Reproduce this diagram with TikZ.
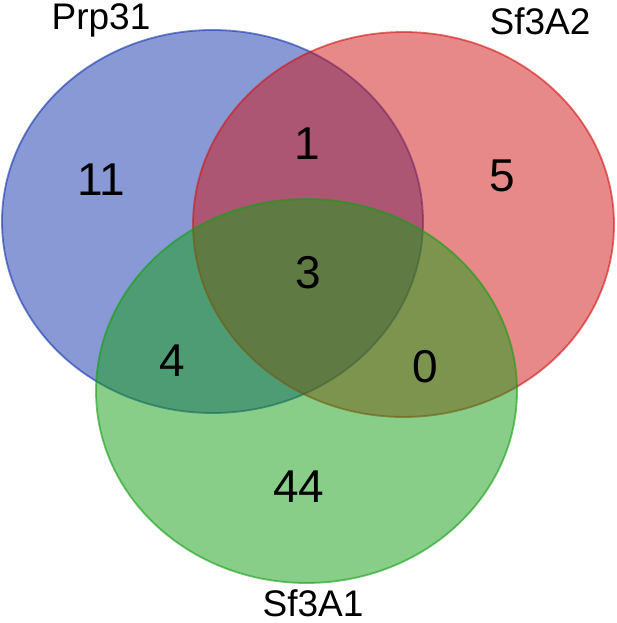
\documentclass[tikz,border=0pt]{standalone}
\usepackage{fontspec}
\setmainfont{Liberation Sans}
\definecolor{vblue}{RGB}{21,53,173}
\definecolor{vred}{RGB}{209,21,21}
\definecolor{vgreen}{RGB}{19,159,19}
\tikzset{
  setshape/.style={fill opacity=0.5, draw opacity=0.6, line width=1.8pt},
  count/.style={font=\fontsize{46}{46}\selectfont, inner sep=0pt},
  setlabel/.style={font=\fontsize{37}{37}\selectfont, inner sep=0pt, anchor=base}
}
\begin{document}
\begin{tikzpicture}[x=1pt,y=-1pt]
\useasboundingbox (0,0) rectangle (617,623);
\fill[white] (0,0) rectangle (617,623);
\path[setshape, fill=vblue, draw=vblue] (212.5,221.5) ellipse [x radius=210.5, y radius=191.5];
\path[setshape, fill=vred, draw=vred] (403.5,224.5) ellipse [x radius=210.5, y radius=192.5];
\path[setshape, fill=vgreen, draw=vgreen] (306.5,391) ellipse [x radius=210.5, y radius=192];
\node[setlabel] (lprp) at (101,30) {Prp31};
\node[setlabel] (lsf2) at (540,35) {Sf3A2};
\node[setlabel] (lsf1) at (313,616) {Sf3A1};
\node[count] (n11) at (101,180) {11};
\node[count] (n1) at (307,143.5) {1};
\node[count] (n5) at (502,176) {5};
\node[count] (n3) at (308,273) {3};
\node[count] (n4) at (172,361) {4};
\node[count] (n0) at (425,367) {0};
\node[count] (n44) at (299,487) {44};
\end{tikzpicture}
\end{document}
